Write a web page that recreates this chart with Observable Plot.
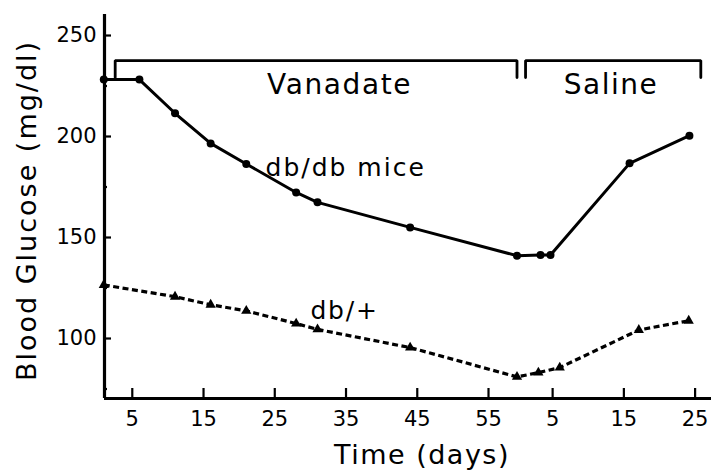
<!DOCTYPE html>
<html><head><meta charset="utf-8">
<script src="https://cdn.jsdelivr.net/npm/d3@7"></script>
<script src="https://cdn.jsdelivr.net/npm/@observablehq/plot@0.6"></script>
<style>body{margin:0;background:#fff}</style>
</head><body><div id="chart"></div>
<script>
// Saline days are drawn after the vanadate period (day 0 of saline ≈ vanadate day 59)
const SALINE_OFFSET = 59;

// db/db mice (circles, solid)
const dbdbVanDays = [1, 6, 11, 16, 21, 28, 31, 44, 59];
const dbdbVanGlucose = [228.2, 228.2, 211.5, 196.6, 186.4, 172.3, 167.4, 155.0, 141.0];
const dbdbSalDays = [3.3, 4.7, 15.8, 24.2];
const dbdbSalGlucose = [141.3, 141.3, 186.7, 200.4];

// db/+ mice (triangles, dashed)
const dbpVanDays = [1, 11, 16, 21, 28, 31, 44, 59];
const dbpVanGlucose = [126.5, 120.7, 116.7, 113.7, 107.4, 104.5, 95.5, 81.0];
const dbpSalDays = [3.0, 6.0, 17.1, 24.1];
const dbpSalGlucose = [83.1, 85.6, 104.2, 108.8];

// treatment periods (brackets)
const periodNames = ["Vanadate", "Saline"];
const periodStart = [2.6, 1.2];     // in days of each period
const periodEnd = [59, 25.8];
const periodIsSaline = [false, true];
const bracketTop = 237.6, bracketBottom = 229.2;
const periodLabelDay = [34.1, 13.2];
const periodLabelGlucose = 225.6;

// series labels
const seriesLabels = ["db/db mice", "db/+"];
const seriesLabelDay = [23.7, 30.0];
const seriesLabelGlucose = [184.6, 113.6];

// axis ticks
const vanTicks = [5, 15, 25, 35, 45, 55];
const salTicks = [5, 15, 25];
const yMajor = [100, 150, 200, 250];
const yMinor = [75, 125, 175, 225];
const xDomain = [1.1, 86.3];
const yDomain = [70.3, 260.4];

const pos = (d, saline) => saline ? d + SALINE_OFFSET : d;

const dbdb = [
  ...dbdbVanDays.map((d, i) => ({x: pos(d, false), y: dbdbVanGlucose[i]})),
  ...dbdbSalDays.map((d, i) => ({x: pos(d, true), y: dbdbSalGlucose[i]}))
];
const dbp = [
  ...dbpVanDays.map((d, i) => ({x: pos(d, false), y: dbpVanGlucose[i]})),
  ...dbpSalDays.map((d, i) => ({x: pos(d, true), y: dbpSalGlucose[i]}))
];

const bracketPts = periodNames.flatMap((p, i) => {
  const s = pos(periodStart[i], periodIsSaline[i]), e = pos(periodEnd[i], periodIsSaline[i]);
  return [
    {p, x: s, y: bracketBottom}, {p, x: s, y: bracketTop},
    {p, x: e, y: bracketTop}, {p, x: e, y: bracketBottom}
  ];
});
const periodLabels = periodNames.map((p, i) => ({text: p, x: pos(periodLabelDay[i], periodIsSaline[i]), y: periodLabelGlucose}));
const serLabels = seriesLabels.map((t, i) => ({text: t, x: seriesLabelDay[i], y: seriesLabelGlucose[i]}));

const xTickPos = [...vanTicks.map(d => pos(d, false)), ...salTicks.map(d => pos(d, true))];
const xTickLab = new Map(xTickPos.map((p, i) => [p, String(i < vanTicks.length ? vanTicks[i] : salTicks[i - vanTicks.length])]));

const W = 711, H = 470, mL = 104, mR = 0, mT = 14, mB = 72;
const frameW = W - mL - mR, frameH = H - mT - mB;

const chart = Plot.plot({
  width: W, height: H,
  marginLeft: mL, marginRight: mR, marginTop: mT, marginBottom: mB,
  style: {fontFamily: "DejaVu Sans", fontSize: "21px", color: "black", background: "white"},
  x: {domain: xDomain},
  y: {domain: yDomain},
  marks: [
    Plot.ruleX([xDomain[0]], {stroke: "black", strokeWidth: 3.2}),
    Plot.ruleY([yDomain[0]], {stroke: "black", strokeWidth: 3.2}),
    Plot.tickX(xTickPos, {x: d => d, insetTop: frameH - 10, stroke: "black", strokeWidth: 2.2}),
    Plot.tickY(yMajor, {y: d => d, insetRight: frameW - 7, stroke: "black", strokeWidth: 2.2}),
    Plot.tickY(yMinor, {y: d => d, insetRight: frameW - 3, stroke: "black", strokeWidth: 2.2}),
    Plot.axisX(xTickPos, {tickSize: 0, tickPadding: 13, tickFormat: d => xTickLab.get(d), fontSize: 21, label: null}),
    Plot.axisY(yMajor, {tickSize: 0, tickPadding: 8, fontSize: 21, label: null}),
    Plot.line(bracketPts, {x: "x", y: "y", z: "p", stroke: "black", strokeWidth: 2.8, strokeLinejoin: "miter"}),
    Plot.line(dbdb, {x: "x", y: "y", stroke: "black", strokeWidth: 3}),
    Plot.dot(dbdb, {x: "x", y: "y", r: 4, fill: "black"}),
    Plot.line(dbp, {x: "x", y: "y", stroke: "black", strokeWidth: 3.2, strokeDasharray: "6,3.5", strokeLinecap: "butt"}),
    Plot.dot(dbp, {x: "x", y: "y", r: 3.8, symbol: "triangle", fill: "black"}),
    Plot.text(periodLabels, {x: "x", y: "y", text: "text", fontSize: 28, textAnchor: "middle", lineAnchor: "middle"}),
    Plot.text(serLabels, {x: "x", y: "y", text: "text", fontSize: 25, textAnchor: "start", lineAnchor: "middle"}),
    Plot.text(["Time (days)"], {text: d => d, frameAnchor: "bottom", dx: 14, dy: 56.5, fontSize: 27, textAnchor: "middle", lineAnchor: "middle"}),
    Plot.text(["Blood Glucose (mg/dl)"], {text: d => d, frameAnchor: "left", rotate: -90, dx: -77.6, dy: 4, fontSize: 27, textAnchor: "middle", lineAnchor: "middle"})
  ]
});

const spacing = new Map([
  ["Time (days)", "1.5px"], ["Blood Glucose (mg/dl)", "2px"],
  ["Vanadate", "1.6px"], ["Saline", "1.5px"],
  ["db/db mice", "2px"], ["db/+", "1.8px"]
]);
d3.select(chart).selectAll("text").each(function () {
  const s = spacing.get(this.textContent);
  if (s) this.style.letterSpacing = s;
});
document.getElementById("chart").appendChild(chart);
</script>
</body></html>
